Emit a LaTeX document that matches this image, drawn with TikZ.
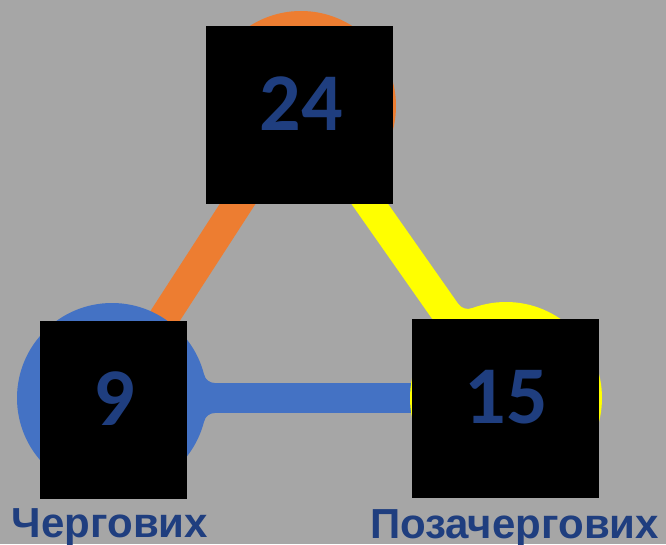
\documentclass[tikz,border=0pt]{standalone}
\usepackage{fontspec}
\setmainfont{Liberation Sans}
\newfontfamily\numfont{Carlito}
\definecolor{bgC}{HTML}{A6A6A6}
\definecolor{orangeC}{HTML}{ED7D31}
\definecolor{blueC}{HTML}{4472C4}
\definecolor{yellowC}{HTML}{FFFF00}
\definecolor{textC}{HTML}{1F3E7F}
\pgfdeclarelayer{canvas}
\pgfdeclarelayer{behind}
\pgfsetlayers{canvas,behind,main}
\tikzset{
  disc/.style={circle, inner sep=0pt, outer sep=0pt, minimum size=#1},
  link/.style={line width=30pt},
  cover/.style={fill=black, inner sep=0pt, outer sep=0pt},
  num/.style={text=textC, font=\numfont\bfseries\fontsize{82}{82}\selectfont, inner sep=0pt},
  lbl/.style={text=textC, font=\bfseries\fontsize{42}{42}\selectfont, inner sep=0pt, anchor=base}
}
\begin{document}
\begin{tikzpicture}[x=1pt,y=1pt]
\begin{pgfonlayer}{canvas}
\fill[bgC] (0,0) rectangle (666,544);
\end{pgfonlayer}
\useasboundingbox (0,0) rectangle (666,544);
% circles
\node[disc=190pt, fill=orangeC] (o) at (301,438) {};
\node[disc=190pt, fill=blueC] (b) at (112,146) {};
\node[disc=192pt, fill=yellowC] (y) at (506,146) {};
% connectors beneath the circles
\begin{pgfonlayer}{behind}
\draw[link, orangeC] (o.center) -- (b.center);
\draw[link, yellowC] (o.center) -- (y.center);
\draw[link, blueC] (b.center) -- (y.center);
\end{pgfonlayer}
% fillets
\fill[blueC] (204.10,169.30) arc[start angle=194.2, end angle=270, radius=11] -- (214.76,146) -- (190,146) -- cycle;
\fill[blueC] (204.10,122.70) arc[start angle=165.8, end angle=90, radius=11] -- (214.76,146) -- (190,146) -- cycle;
\fill[yellowC] (458.20,240.20) arc[start angle=215.07, end angle=290.59, radius=12] -- (456,217) -- cycle;
% black squares
\fill[cover] (206,340) rectangle (393,518);
\fill[cover] (40,45) rectangle (187,223);
\fill[cover] (412,46) rectangle (599,225);
% numbers
\node[num] (n24) at (301,440) {24};
\node[num] (n9) at (114,145) {9};
\node[num] (n15) at (506,147) {15};
% labels
\node[lbl] (l1) at (110,7) {Чергових};
\node[lbl] (l2) at (514.5,6) {Позачергових};
\end{tikzpicture}
\end{document}
